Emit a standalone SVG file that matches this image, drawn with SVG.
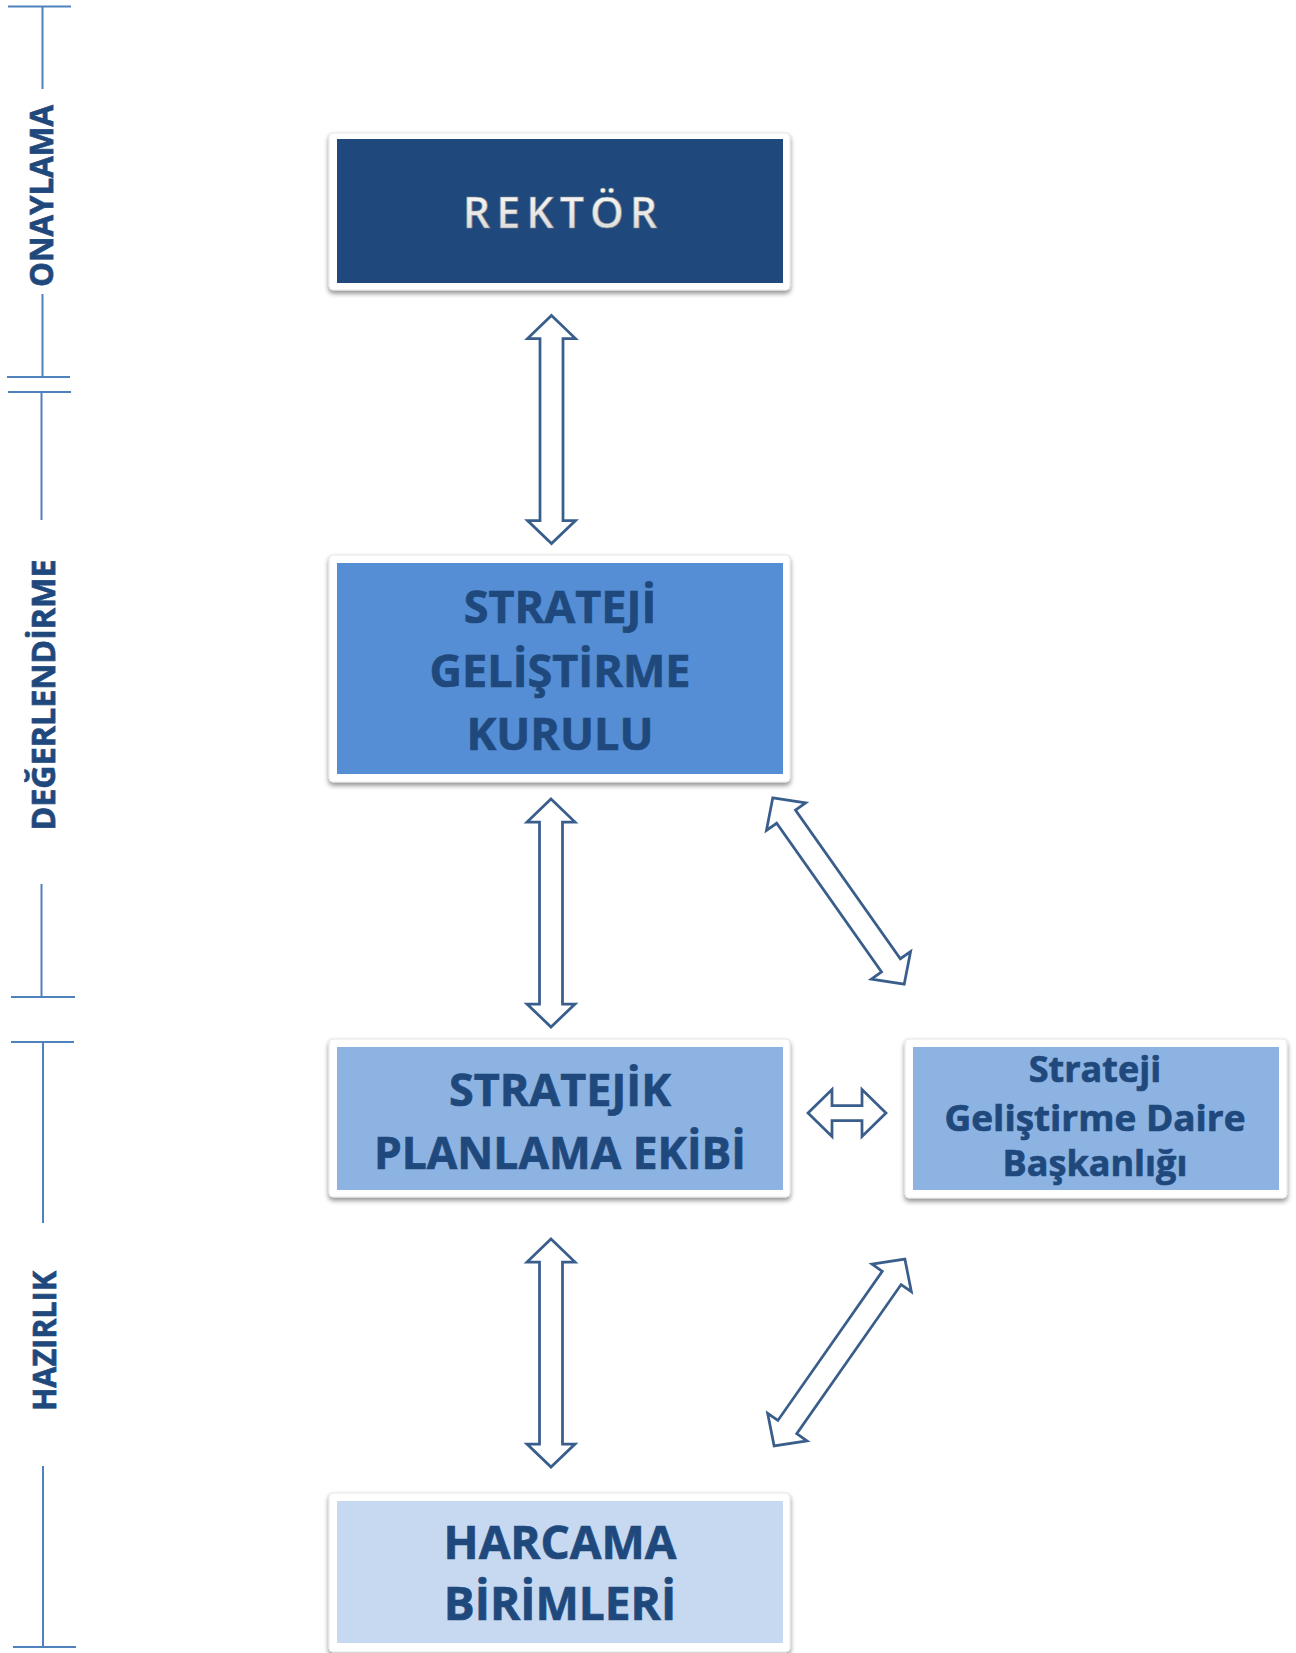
<svg xmlns="http://www.w3.org/2000/svg" width="1296" height="1653" viewBox="0 0 1296 1653">
<defs>
<filter id="sh" x="-5%" y="-10%" width="110%" height="125%">
<feGaussianBlur in="SourceAlpha" stdDeviation="2.5"/>
<feOffset dx="0" dy="3" result="b"/>
<feComponentTransfer><feFuncA type="linear" slope="0.45"/></feComponentTransfer>
<feMerge><feMergeNode/><feMergeNode in="SourceGraphic"/></feMerge>
</filter>
<linearGradient id="wg" x1="0" y1="0" x2="0" y2="1">
<stop offset="0" stop-color="#ffffff"/>
<stop offset="1" stop-color="#d4d4d4"/>
</linearGradient>
<path id="va" d="M0,-114 L24,-91 L11.5,-91 L11.5,91 L24,91 L0,114 L-24,91 L-11.5,91 L-11.5,-91 L-24,-91 Z"/>
</defs>
<style>
.frame{fill:#ffffff;stroke:#e6e6e6;stroke-width:1;filter:url(#sh)}
.t{font-family:"Open Sans","Liberation Sans",sans-serif;font-weight:700;fill:#1F497D;stroke:#1F497D;stroke-width:0.7;text-anchor:middle}
.tl{stroke:#4F81BD;stroke-width:2;fill:none}
.arr{fill:#ffffff;stroke:#3A5E8C;stroke-width:2.75;stroke-linejoin:miter}
</style>
<rect width="1296" height="1653" fill="#ffffff"/>

<g id="timeline">
<line class="tl" x1="8" y1="6.5" x2="71" y2="6.5"/>
<line class="tl" x1="42.5" y1="6.5" x2="42.5" y2="89"/>
<line class="tl" x1="42.5" y1="294" x2="42.5" y2="377"/>
<line class="tl" x1="7" y1="377" x2="70" y2="377"/>
<line class="tl" x1="8" y1="392" x2="71" y2="392"/>
<line class="tl" x1="41.5" y1="392" x2="41.5" y2="520"/>
<line class="tl" x1="41.5" y1="884" x2="41.5" y2="997"/>
<line class="tl" x1="11" y1="997" x2="75" y2="997"/>
<line class="tl" x1="11" y1="1042" x2="74" y2="1042"/>
<line class="tl" x1="43" y1="1042" x2="43" y2="1223"/>
<line class="tl" x1="43" y1="1466" x2="43" y2="1647"/>
<line class="tl" x1="13" y1="1647" x2="76" y2="1647"/>
<text class="t" font-size="32" transform="translate(53,196) rotate(-90)" textLength="182" lengthAdjust="spacingAndGlyphs">ONAYLAMA</text>
<text class="t" font-size="32" transform="translate(55,695) rotate(-90)" textLength="271" lengthAdjust="spacingAndGlyphs">DEĞERLENDİRME</text>
<text class="t" font-size="32" transform="translate(56,1341) rotate(-90)" textLength="140" lengthAdjust="spacingAndGlyphs">HAZIRLIK</text>
</g>

<g id="connectors">
<use href="#va" class="arr" transform="translate(551.5,429.5)"/>
<use href="#va" class="arr" transform="translate(551,913)"/>
<use href="#va" class="arr" transform="translate(551,1353)"/>
<use href="#va" class="arr" transform="translate(838.5,891) rotate(-35.2)"/>
<use href="#va" class="arr" transform="translate(839.5,1352.5) rotate(35)"/>
<path class="arr" d="M808,1113 L832,1089.5 L832,1105.5 L862,1105.5 L862,1089.5 L886,1113 L862,1136.5 L862,1120.5 L832,1120.5 L832,1136.5 Z"/>
</g>

<g id="rektor">
<rect class="frame" x="329" y="133" width="461" height="157" rx="4"/>
<rect x="337" y="139" width="446" height="144" fill="#1F497D"/>
<text x="563" y="228" font-family="'Open Sans','Liberation Sans',sans-serif" font-weight="600" font-size="43" letter-spacing="6" text-anchor="middle" fill="url(#wg)" stroke="#8a8a8a" stroke-width="0.6">REKTÖR</text>
</g>

<g id="sgk">
<rect class="frame" x="329" y="555" width="461" height="227" rx="4"/>
<rect x="337" y="563" width="446" height="211" fill="#558ED5"/>
<text class="t" font-size="45" x="560" y="623">STRATEJİ</text>
<text class="t" font-size="45" x="560" y="687" textLength="261" lengthAdjust="spacingAndGlyphs">GELİŞTİRME</text>
<text class="t" font-size="45" x="560" y="750">KURULU</text>
</g>

<g id="spe">
<rect class="frame" x="329" y="1039" width="461" height="158" rx="4"/>
<rect x="337" y="1047" width="446" height="143" fill="#8DB3E2"/>
<text class="t" font-size="44" x="560" y="1106" textLength="222" lengthAdjust="spacingAndGlyphs">STRATEJİK</text>
<text class="t" font-size="44" x="560" y="1169" textLength="372" lengthAdjust="spacingAndGlyphs">PLANLAMA EKİBİ</text>
</g>

<g id="sgdb">
<rect class="frame" x="905" y="1039" width="382" height="159" rx="4"/>
<rect x="913" y="1047" width="366" height="143" fill="#8DB3E2"/>
<text class="t" font-size="36" x="1095" y="1082">Strateji</text>
<text class="t" font-size="36" x="1095" y="1131" textLength="301" lengthAdjust="spacingAndGlyphs">Geliştirme Daire</text>
<text class="t" font-size="36" x="1095" y="1176">Başkanlığı</text>
</g>

<g id="harcama">
<rect class="frame" x="329" y="1493" width="461" height="159" rx="4"/>
<rect x="337" y="1501" width="446" height="142" fill="#C6D9F1"/>
<text class="t" font-size="46" x="560" y="1559" textLength="233" lengthAdjust="spacingAndGlyphs">HARCAMA</text>
<text class="t" font-size="46" x="560" y="1620">BİRİMLERİ</text>
</g>
</svg>
